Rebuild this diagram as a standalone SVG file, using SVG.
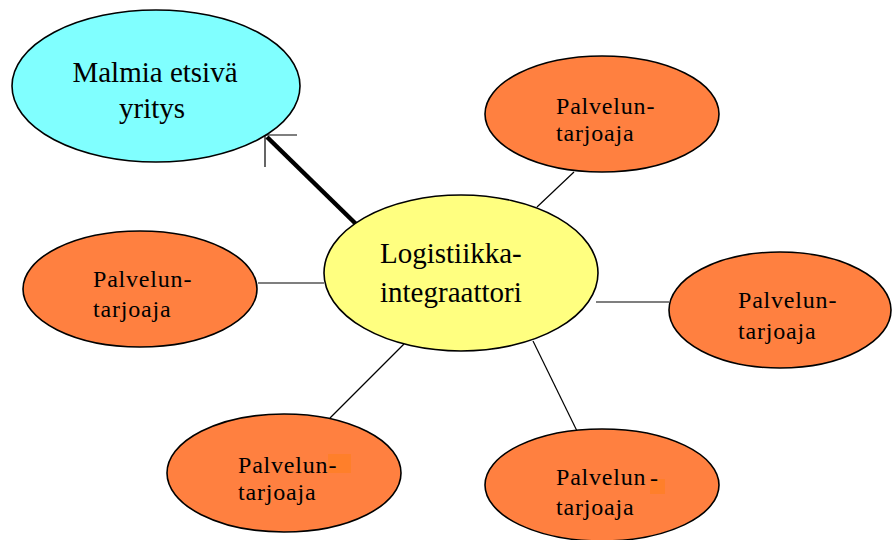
<svg xmlns="http://www.w3.org/2000/svg" width="892" height="540" viewBox="0 0 892 540">
<style>
.n{stroke:#000;stroke-width:1.6}
.cy{fill:#80FFFF}
.ye{fill:#FFFF80}
.or{fill:#FF8040}
.big{font-family:"Liberation Serif","Times New Roman",serif;font-size:29px;fill:#000}
.sm{font-family:"Liberation Serif","Times New Roman",serif;font-size:24px;letter-spacing:0.8px;fill:#000}
.c{stroke:#000;stroke-width:1.2;fill:none}
.patch{fill:#FF7F2A}
</style>
<rect width="892" height="540" fill="#fff"/>
<g id="connectors">
<line class="c" x1="258" y1="283" x2="324" y2="283"/>
<line class="c" x1="537" y1="207" x2="574" y2="172"/>
<line class="c" x1="596" y1="302" x2="669" y2="302"/>
<line class="c" x1="404" y1="344" x2="330" y2="418"/>
<line class="c" x1="533" y1="341" x2="577" y2="431"/>
<line x1="356" y1="224" x2="267" y2="137" stroke="#000" stroke-width="4.5"/>
<polyline class="c" points="297,135 265,135 265,167"/>
</g>
<g id="malmia">
<ellipse class="n cy" cx="156" cy="86" rx="144" ry="76"/>
<text class="big" x="155" y="82" text-anchor="middle">Malmia etsivä</text>
<text class="big" x="152" y="118" text-anchor="middle">yritys</text>
</g>
<g id="integraattori">
<ellipse class="n ye" cx="461" cy="273" rx="137" ry="78"/>
<text class="big" x="380" y="263">Logistiikka-</text>
<text class="big" x="380" y="302">integraattori</text>
</g>
<g id="p-topright">
<ellipse class="n or" cx="602" cy="114" rx="117" ry="58"/>
<text class="sm" x="556" y="114">Palvelun-</text>
<text class="sm" x="556" y="141">tarjoaja</text>
</g>
<g id="p-right">
<ellipse class="n or" cx="780" cy="310" rx="111" ry="58"/>
<text class="sm" x="738" y="308">Palvelun-</text>
<text class="sm" x="738" y="339">tarjoaja</text>
</g>
<g id="p-left">
<ellipse class="n or" cx="140" cy="289" rx="117" ry="58"/>
<text class="sm" x="93" y="287">Palvelun-</text>
<text class="sm" x="93" y="317">tarjoaja</text>
</g>
<g id="p-bottomleft">
<ellipse class="n or" cx="284" cy="473" rx="117" ry="59"/>
<rect class="patch" x="328" y="454" width="23" height="19"/>
<text class="sm" x="238" y="473">Palvelun-</text>
<text class="sm" x="238" y="500">tarjoaja</text>
</g>
<g id="p-bottomright">
<ellipse class="n or" cx="602" cy="485" rx="117" ry="56"/>
<rect class="patch" x="650" y="479" width="15" height="15"/>
<text class="sm" x="556" y="485">Palvelun</text>
<text class="sm" x="650" y="486">-</text>
<text class="sm" x="556" y="515">tarjoaja</text>
</g>
</svg>
